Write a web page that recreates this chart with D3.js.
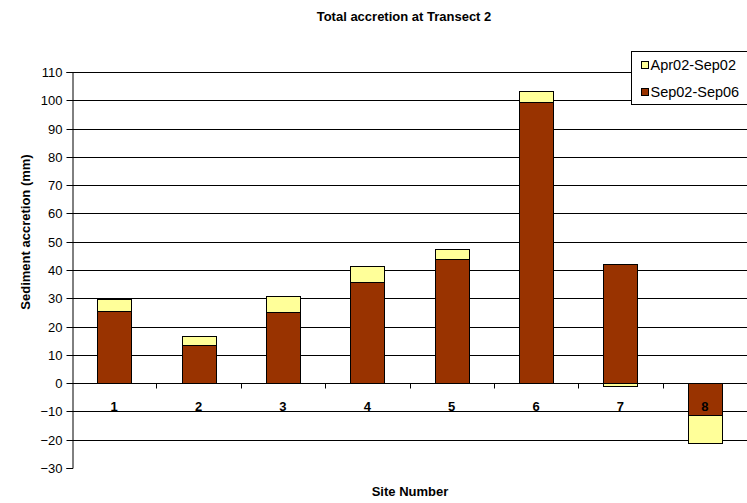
<!DOCTYPE html>
<html>
<head>
<meta charset="utf-8">
<script src="https://cdn.jsdelivr.net/npm/d3@7"></script>
<style>
  html, body { margin: 0; padding: 0; background: #fff; }
  svg { display: block; font-family: "Liberation Sans", Arial, sans-serif; }
</style>
</head>
<body>
<svg id="chart" width="747" height="503"></svg>
<script>
const sites = ["1", "2", "3", "4", "5", "6", "7", "8"];
const sep02Sep06 = [25.5, 13.4, 25.0, 35.7, 43.9, 99.5, 42.1, -11.3];
const apr02Sep02 = [4.2, 3.1, 5.9, 5.6, 3.7, 3.9, -0.9, -9.9];
const yTicks = [-30, -20, -10, 0, 10, 20, 30, 40, 50, 60, 70, 80, 90, 100, 110];
const seriesNames = ["Sep02-Sep06", "Apr02-Sep02"];
const legendNames = ["Apr02-Sep02", "Sep02-Sep06"];
const colors = { "Sep02-Sep06": "#993300", "Apr02-Sep02": "#FFFF99" };

const svg = d3.select("#chart");
const plot = { left: 72, right: 747, top: 72, bottom: 468 };

const y = d3.scaleLinear().domain([-30, 110]).range([plot.bottom, plot.top]);
const x = d3.scaleBand().domain(sites).range([plot.left, plot.right]).paddingInner(0).paddingOuter(0);
const barW = 34;

const rows = sites.map((s, i) => ({ site: s, "Sep02-Sep06": sep02Sep06[i], "Apr02-Sep02": apr02Sep02[i] }));
const stack = d3.stack().keys(seriesNames).offset(d3.stackOffsetDiverging);
const stacked = stack(rows);

// gridlines
svg.append("g").selectAll("line").data(yTicks.filter(t => t !== 0 && t !== -30)).join("line")
  .attr("x1", plot.left).attr("x2", plot.right)
  .attr("y1", d => Math.round(y(d)) + 0.5).attr("y2", d => Math.round(y(d)) + 0.5)
  .attr("stroke", "#000").attr("stroke-width", 1);

// bars
svg.append("g").selectAll("g").data(stacked).join("g")
  .attr("fill", d => colors[d.key])
  .selectAll("rect").data(d => d).join("rect")
  .attr("x", d => Math.round(x(d.data.site) + (x.bandwidth() - barW) / 2) + 0.5)
  .attr("width", barW)
  .attr("y", d => Math.round(y(Math.max(d[0], d[1]))) + 0.5)
  .attr("height", d => Math.max(0, Math.round(y(Math.min(d[0], d[1]))) - Math.round(y(Math.max(d[0], d[1])))))
  .attr("stroke", "#000").attr("stroke-width", 1);

// y axis
const yAxis = d3.axisLeft(y).tickValues(yTicks).tickSize(6).tickPadding(4).tickFormat(d3.format("d"));
const gy = svg.append("g").attr("transform", `translate(${plot.left + 0.5},0)`).call(yAxis);
gy.select(".domain").attr("stroke", "#000");
gy.selectAll(".tick line").attr("stroke", "#000");
gy.selectAll("text").attr("font-size", 13).attr("fill", "#000").attr("font-family", "Liberation Sans, Arial, sans-serif");
gy.selectAll(".tick").attr("transform", d => `translate(0,${Math.round(y(d)) + 0.5})`);

// x axis at zero
const zeroY = Math.round(y(0)) + 0.5;
svg.append("line").attr("x1", plot.left).attr("x2", plot.right).attr("y1", zeroY).attr("y2", zeroY)
  .attr("stroke", "#000");
const boundaries = sites.slice(1).map(s => x(s));
svg.append("g").selectAll("line").data(boundaries).join("line")
  .attr("x1", d => Math.round(d) + 0.5).attr("x2", d => Math.round(d) + 0.5)
  .attr("y1", zeroY).attr("y2", zeroY + 5).attr("stroke", "#000");

// category labels
svg.append("g").selectAll("text").data(sites).join("text")
  .attr("x", d => x(d) + x.bandwidth() / 2)
  .attr("y", zeroY + 27)
  .attr("text-anchor", "middle")
  .attr("font-size", 13).attr("font-weight", "bold")
  .text(d => d);

// title
svg.append("text").attr("x", 404).attr("y", 21).attr("text-anchor", "middle")
  .attr("font-size", 13).attr("font-weight", "bold").text("Total accretion at Transect 2");

// axis titles
svg.append("text").attr("x", 410).attr("y", 496).attr("text-anchor", "middle")
  .attr("font-size", 13).attr("font-weight", "bold").text("Site Number");
svg.append("text").attr("transform", `translate(30,232) rotate(-90)`).attr("text-anchor", "middle")
  .attr("font-size", 13).attr("font-weight", "bold").text("Sediment accretion (mm)");

// legend
const lg = svg.append("g").attr("transform", "translate(631.5,51.5)");
lg.append("rect").attr("width", 130).attr("height", 53).attr("fill", "#fff").attr("stroke", "#000");
legendNames.forEach((n, i) => {
  const g = lg.append("g").attr("transform", `translate(10,${10 + i * 27})`);
  g.append("rect").attr("width", 7).attr("height", 7).attr("fill", colors[n]).attr("stroke", "#000");
  g.append("text").attr("x", 9).attr("y", 8.5).attr("font-size", 14.5).text(n);
});
</script>
</body>
</html>
